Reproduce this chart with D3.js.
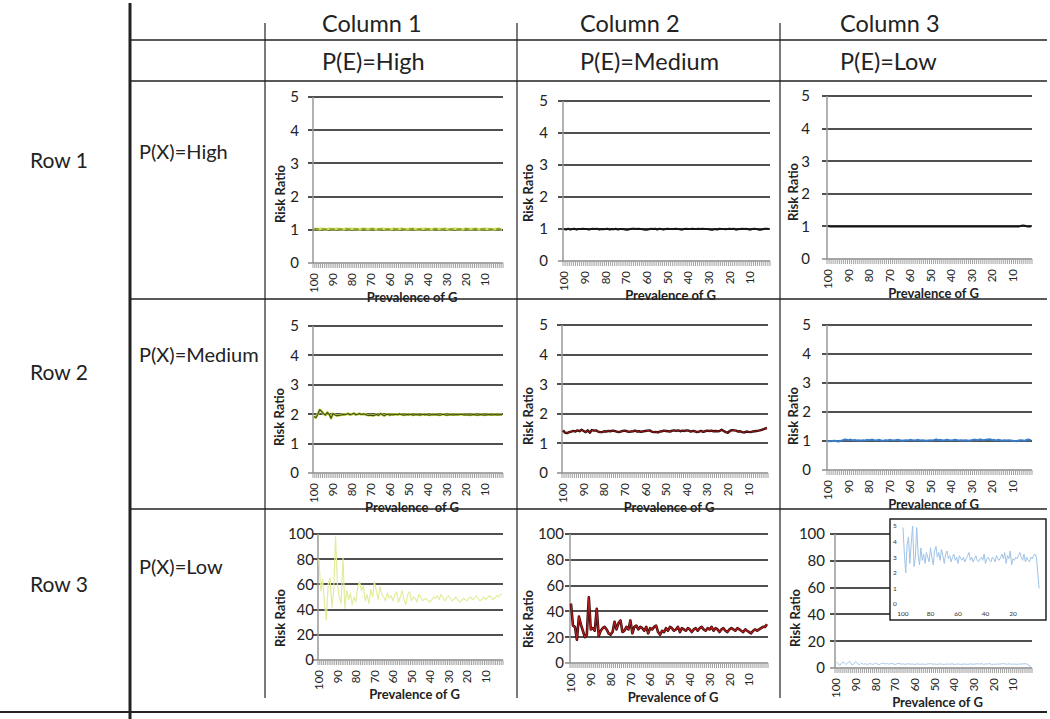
<!DOCTYPE html>
<html><head><meta charset="utf-8">
<script src="https://cdn.jsdelivr.net/npm/d3@7"></script>
<style>
body{margin:0;background:#fff;}
svg{display:block;font-family:Lato,"Open Sans",sans-serif;}
text{white-space:pre;}
</style>
</head><body>
<svg id="c" width="1050" height="719"></svg>
<script>
// ---------------- DATA ----------------
const categories = [100,99,98,97,96,95,94,93,92,91,90,89,88,87,86,85,84,83,82,81,80,79,78,77,76,75,74,73,72,71,70,69,68,67,66,65,64,63,62,61,60,59,58,57,56,55,54,53,52,51,50,49,48,47,46,45,44,43,42,41,40,39,38,37,36,35,34,33,32,31,30,29,28,27,26,25,24,23,22,21,20,19,18,17,16,15,14,13,12,11,10,9,8,7,6,5,4,3,2,1];
const xTickLabels = [100,90,80,70,60,50,40,30,20,10];
const yTicksSmall = [0,1,2,3,4,5];
const yTicksLarge = [0,20,40,60,80,100];
const insetXTicks = [100,80,60,40,20];
const columnTitles = ["Column 1","Column 2","Column 3"];
const peLabels = ["P(E)=High","P(E)=Medium","P(E)=Low"];
const rowTitles = ["Row 1","Row 2","Row 3"];
const pxLabels = ["P(X)=High","P(X)=Medium","P(X)=Low"];
const xTitles = ["Prevalence of G","Prevalence of G","Prevalence of G","Prevalence  of G","Prevalence of G","Prevalence of G","Prevalence of G","Prevalence of G","Prevalence of G"];

const r1c1 = [1.02,1.03,1.02,1.02,1.03,1.02,1.01,1.02,1.03,1.02,1.02,1.02,1.03,1.02,1.02,1.01,1.02,1.03,1.02,1.02,1.03,1.02,1.02,1.02,1.01,1.02,1.03,1.02,1.02,1.02,1.02,1.03,1.02,1.01,1.02,1.02,1.03,1.02,1.02,1.02,1.01,1.02,1.03,1.02,1.02,1.02,1.03,1.02,1.01,1.02,1.02,1.02,1.03,1.02,1.02,1.01,1.02,1.02,1.03,1.02,1.02,1.02,1.01,1.02,1.03,1.02,1.02,1.02,1.02,1.03,1.02,1.01,1.02,1.02,1.03,1.02,1.02,1.02,1.01,1.02,1.03,1.02,1.02,1.02,1.02,1.03,1.02,1.01,1.02,1.02,1.03,1.02,1.02,1.02,1.01,1.02,1.02,1.03,1.02,1.01];
const r1c2 = [1.0,0.98,1.01,0.98,1.0,1.01,0.98,1.0,1.0,1.01,1.0,1.0,0.98,1.0,1.01,1.0,1.01,0.98,1.0,0.99,1.0,1.01,0.98,1.0,0.99,1.01,0.98,1.0,1.0,0.99,0.98,0.98,1.0,1.01,1.01,1.0,1.01,1.0,0.99,0.98,0.98,0.99,1.01,1.0,1.01,0.98,1.01,1.0,0.98,1.0,1.01,1.0,1.0,1.0,1.01,1.0,0.99,0.98,1.0,1.01,1.0,1.0,1.01,1.0,1.0,1.01,1.0,1.01,1.0,1.0,0.99,0.98,0.98,1.0,0.98,1.01,1.0,1.0,0.99,1.0,1.01,1.0,1.01,0.98,0.99,1.0,1.01,1.0,1.01,0.99,0.98,1.0,1.01,1.0,0.98,0.98,0.99,1.01,1.01,1.0];
const r1c3 = [1.01,1.0,1.0,1.0,1.0,1.0,1.0,1.0,1.0,1.0,1.0,1.0,1.0,1.0,1.0,1.0,1.0,1.0,1.0,1.0,1.0,1.0,1.0,1.0,1.0,1.0,1.0,1.0,1.0,1.0,1.0,1.0,1.0,1.0,1.0,1.0,1.0,1.0,1.0,1.0,1.0,1.0,1.0,1.0,1.0,1.0,1.0,1.0,1.0,1.0,1.0,1.0,1.0,1.0,1.0,1.0,1.0,1.0,1.0,1.0,1.0,1.0,1.0,1.0,1.0,1.0,1.0,1.0,1.0,1.0,1.0,1.0,1.0,1.0,1.0,1.0,1.0,1.0,1.0,1.0,1.0,1.0,1.0,1.0,1.0,1.0,1.0,1.0,1.0,1.0,1.0,1.0,1.0,1.0,1.01,1.03,1.02,1.0,1.0,1.0];
const r2c1 = [1.92,1.88,2.0,2.15,2.1,2.02,1.97,2.06,2.0,1.86,2.02,1.98,1.95,1.96,1.97,1.99,1.98,2.0,2.02,1.98,2.0,2.03,1.98,2.0,2.02,1.99,2.01,1.99,1.97,1.96,1.97,1.95,1.97,1.99,1.96,2.02,1.98,1.95,1.99,2.0,1.97,1.99,1.98,2.0,1.98,2.01,1.99,1.97,1.98,1.99,1.98,2.0,1.97,1.98,1.99,1.98,1.97,2.0,1.98,1.99,1.98,1.97,1.99,1.98,1.99,1.98,1.97,1.98,2.0,1.98,1.97,1.98,1.99,1.98,1.98,1.99,1.98,2.0,1.99,1.98,1.98,1.98,1.97,1.98,1.99,1.98,1.97,1.98,1.99,1.98,1.97,1.98,1.99,1.98,1.98,1.99,1.98,1.98,1.99,1.98];
const r2c2 = [1.44,1.36,1.35,1.38,1.4,1.42,1.4,1.44,1.41,1.46,1.42,1.38,1.44,1.36,1.45,1.43,1.44,1.4,1.38,1.38,1.41,1.4,1.42,1.41,1.43,1.42,1.4,1.38,1.4,1.42,1.43,1.41,1.39,1.4,1.41,1.43,1.4,1.41,1.39,1.41,1.42,1.43,1.44,1.4,1.38,1.39,1.37,1.4,1.41,1.43,1.42,1.41,1.4,1.43,1.44,1.42,1.44,1.41,1.43,1.42,1.44,1.43,1.4,1.42,1.41,1.38,1.4,1.42,1.39,1.41,1.43,1.42,1.43,1.41,1.42,1.41,1.42,1.46,1.42,1.38,1.36,1.42,1.45,1.44,1.43,1.4,1.41,1.38,1.37,1.4,1.39,1.38,1.4,1.41,1.42,1.43,1.45,1.47,1.5,1.52];
const r2c3 = [1.0,0.99,1.0,1.01,1.0,0.98,1.01,1.02,1.05,1.04,1.03,1.05,1.02,1.04,1.02,1.03,1.01,1.03,1.02,1.04,1.03,1.04,1.04,1.02,1.03,1.04,1.02,1.01,1.03,1.02,1.04,1.03,1.02,1.03,1.04,1.03,1.01,1.02,1.03,1.02,1.04,1.03,1.02,1.03,1.04,1.02,1.03,1.02,1.01,1.02,1.03,1.02,1.04,1.05,1.03,1.04,1.02,1.03,1.04,1.03,1.02,1.03,1.04,1.03,1.02,1.03,1.02,1.03,1.02,1.01,1.03,1.04,1.04,1.03,1.05,1.04,1.03,1.04,1.05,1.06,1.03,1.04,1.02,1.04,1.03,1.01,1.03,1.02,1.03,1.02,1.01,1.0,0.99,1.02,1.03,1.02,1.01,1.04,1.05,1.02];
const r3c1 = [80,55,64,45,32,60,65,42,55,98,60,50,45,81,41,55,48,53,44,50,46,58,62,55,59,47,52,45,56,50,62,55,48,58,52,50,47,53,49,51,47,52,54,46,50,55,48,44,52,54,47,50,49,46,52,50,47,48,49,47,46,48,50,49,51,48,52,50,47,49,51,49,47,48,50,48,46,47,49,48,47,49,50,48,49,51,49,47,48,50,48,49,51,50,48,49,51,50,52,52];
const r3c2 = [46,29,28,18,36,30,25,20,22,51,26,27,25,42,21,25,27,28,26,23,22,24,32,26,31,33,24,25,28,26,33,23,28,29,26,28,27,25,28,23,27,26,28,29,24,22,25,24,27,25,28,27,25,26,28,24,27,26,25,27,26,24,26,27,25,27,28,26,25,27,26,28,25,27,26,24,26,27,25,24,26,27,26,25,27,26,25,24,26,25,24,23,25,26,25,26,27,28,28,30];
const r3c3 = [4.9,3.2,2.0,3.8,4.3,2.6,3.9,5.0,2.4,3.0,4.9,3.2,2.5,3.6,2.8,3.2,2.6,3.3,3.0,2.7,3.6,3.0,2.5,3.4,3.7,3.0,3.3,2.8,3.5,3.1,2.6,3.2,3.4,2.9,3.1,2.7,3.0,3.2,2.8,3.0,2.6,3.1,2.9,2.8,3.0,2.7,2.9,3.1,3.3,2.8,3.0,2.7,2.9,3.1,2.8,2.7,2.9,3.0,2.8,3.2,2.6,2.9,3.0,2.8,2.7,3.0,2.9,2.7,3.1,2.9,2.8,3.0,3.2,2.9,3.3,2.6,3.1,2.9,3.4,2.5,2.9,2.8,3.0,2.9,3.1,3.3,3.0,2.8,3.2,2.7,3.0,2.8,2.7,3.0,2.9,3.1,3.2,3.0,2.0,1.0];

// ---------------- LAYOUT ----------------
const svg = d3.select("#c");
const panels = [
  {s:r1c1, ticks:yTicksSmall, max:5, x0:313,x1:503,yT:97, yB:263,lab:299,rrX:280,rrY:194, strokes:[{c:"#cfdc55",w:2.6},{c:"#6d8a22",w:1.3,d:"5,3"}]},
  {s:r1c2, ticks:yTicksSmall, max:5, x0:563,x1:770,yT:101,yB:261,lab:548,rrX:528,rrY:193, strokes:[{c:"#151515",w:2}]},
  {s:r1c3, ticks:yTicksSmall, max:5, x0:827,x1:1032,yT:96,yB:259,lab:810,rrX:793,rrY:192, strokes:[{c:"#151515",w:2}]},
  {s:r2c1, ticks:yTicksSmall, max:5, x0:313,x1:503,yT:326,yB:473,lab:299,rrX:279,rrY:417, strokes:[{c:"#c8d64a",w:2.6},{c:"#3f5212",w:1.2}]},
  {s:r2c2, ticks:yTicksSmall, max:5, x0:562,x1:768,yT:325,yB:473,lab:548,rrX:528,rrY:416, strokes:[{c:"#2e0a0a",w:2.4},{c:"#a01818",w:1}]},
  {s:r2c3, ticks:yTicksSmall, max:5, x0:827,x1:1032,yT:325,yB:470,lab:811,rrX:793,rrY:416, strokes:[{c:"#3a7cc6",w:2}]},
  {s:r3c1, ticks:yTicksLarge, max:100, x0:318,x1:503,yT:534,yB:660,lab:314,rrX:280,rrY:618, strokes:[{c:"#e4ec9c",w:1.2}]},
  {s:r3c2, ticks:yTicksLarge, max:100, x0:570,x1:768,yT:534,yB:663,lab:564,rrX:528,rrY:619, strokes:[{c:"#3a0a0a",w:2.6},{c:"#b51c1c",w:1.2}]},
  {s:r3c3, ticks:yTicksLarge, max:100, x0:835,x1:1032,yT:534,yB:668,lab:825,rrX:795,rrY:618, strokes:[{c:"#a9c9e8",w:1}]}
];

const insetOf = 8; // panel index carrying the inset

panels.forEach((p,i)=>{
  const g = svg.append("g");
  const x = d3.scaleBand().domain(categories).range([p.x0,p.x1]).padding(0);
  const y = d3.scaleLinear().domain([0,p.max]).range([p.yB,p.yT]);
  // gridlines
  g.selectAll("line.grid").data(p.ticks.filter(t=>t>0)).join("line")
    .attr("x1",p.x0-5).attr("x2",p.x1).attr("y1",d=>Math.round(y(d))).attr("y2",d=>Math.round(y(d)))
    .attr("stroke","#505050").attr("stroke-width",2);
  // y axis line
  g.append("line").attr("x1",p.x0).attr("x2",p.x0).attr("y1",p.yT).attr("y2",p.yB)
    .attr("stroke","#999").attr("stroke-width",1.5);
  // x axis line + hatch ticks
  g.append("line").attr("x1",p.x0-5).attr("x2",p.x1).attr("y1",p.yB).attr("y2",p.yB)
    .attr("stroke","#8a8a8a").attr("stroke-width",1.5);
  const bounds = categories.map(c=>x(c)).concat([p.x1]);
  g.selectAll("line.h").data(bounds).join("line")
    .attr("x1",d=>d).attr("x2",d=>d).attr("y1",p.yB).attr("y2",p.yB+5)
    .attr("stroke","#a0a0a0").attr("stroke-width",1);
  // y labels
  g.selectAll("text.yl").data(p.ticks).join("text")
    .attr("x",p.lab).attr("y",d=>y(d)).attr("dy","0.36em").attr("text-anchor","end")
    .attr("font-size",15).attr("fill","#222").text(d=>d);
  // x labels
  g.selectAll("text.xl").data(xTickLabels).join("text")
    .attr("transform",d=>`translate(${x(d)+x.bandwidth()/2},${p.yB+10}) rotate(-90)`)
    .attr("dy","0.36em").attr("text-anchor","end").attr("font-size",11.5).attr("fill","#222").text(d=>d);
  // titles
  g.append("text").attr("x",(p.x0+p.x1)/2+4).attr("y",p.yB+39).attr("text-anchor","middle")
    .attr("font-size",13).attr("font-weight","bold").attr("fill","#222").text(xTitles[i]);
  g.append("text").attr("transform",`translate(${p.rrX},${p.rrY}) rotate(-90)`).attr("dy","0.36em")
    .attr("text-anchor","middle").attr("font-size",13).attr("font-weight","bold").attr("fill","#222").text("Risk Ratio");
  // series
  const line = d3.line().x((d,k)=>x(categories[k])+x.bandwidth()/2).y(d=>y(d));
  p.strokes.forEach(st=>{
    g.append("path").datum(p.s).attr("d",line).attr("fill","none")
      .attr("stroke",st.c).attr("stroke-width",st.w).attr("stroke-linejoin","round")
      .attr("stroke-dasharray",st.d||null);
  });
  if(i===insetOf){
    const ig = svg.append("g");
    ig.append("rect").attr("x",890).attr("y",519).attr("width",156).attr("height",101)
      .attr("fill","#fff").attr("stroke","#222").attr("stroke-width",1.5);
    const ix = d3.scaleBand().domain(categories).range([902.3,1039.8]);
    const iy = d3.scaleLinear().domain([0,5]).range([604,526]);
    ig.selectAll("text.iy").data(yTicksSmall).join("text")
      .attr("x",895).attr("y",d=>iy(d)).attr("dy","0.36em").attr("text-anchor","middle")
      .attr("font-size",6.5).attr("fill","#333").text(d=>d);
    ig.selectAll("text.ix").data(insetXTicks).join("text")
      .attr("x",d=>ix(d)+ix.bandwidth()/2).attr("y",616).attr("text-anchor","middle")
      .attr("font-size",6.5).attr("fill","#333").text(d=>d);
    const il = d3.line().x((d,k)=>ix(categories[k])+ix.bandwidth()/2).y(d=>iy(d));
    ig.append("path").datum(p.s).attr("d",il).attr("fill","none")
      .attr("stroke","#9fc3e6").attr("stroke-width",1);
  }
});

// ---------------- TABLE ----------------
const T = svg.append("g").attr("stroke","#222");
T.append("line").attr("x1",130).attr("x2",130).attr("y1",3).attr("y2",719).attr("stroke-width",3);
[40,81,299,509].forEach(yy=>T.append("line").attr("x1",130).attr("x2",1047).attr("y1",yy).attr("y2",yy).attr("stroke-width",1.5));
T.append("line").attr("x1",0).attr("x2",1047).attr("y1",712).attr("y2",712).attr("stroke-width",2);
[265,517,780].forEach(xx=>T.append("line").attr("x1",xx).attr("x2",xx).attr("y1",23).attr("y2",698).attr("stroke-width",1.2));

const colX = [322,580,840];
columnTitles.forEach((t,k)=>svg.append("text").attr("x",colX[k]).attr("y",32).attr("font-size",23.5).attr("fill","#222").text(t));
peLabels.forEach((t,k)=>svg.append("text").attr("x",colX[k]).attr("y",70).attr("font-size",23.5).attr("fill","#222").text(t));
const rowY = [168,380,592];
rowTitles.forEach((t,k)=>svg.append("text").attr("x",30).attr("y",rowY[k]).attr("font-size",21).attr("fill","#222").text(t));
const pxY = [159,362,574];
pxLabels.forEach((t,k)=>svg.append("text").attr("x",139).attr("y",pxY[k]).attr("font-size",20).attr("fill","#222").text(t));
</script>
</body></html>
